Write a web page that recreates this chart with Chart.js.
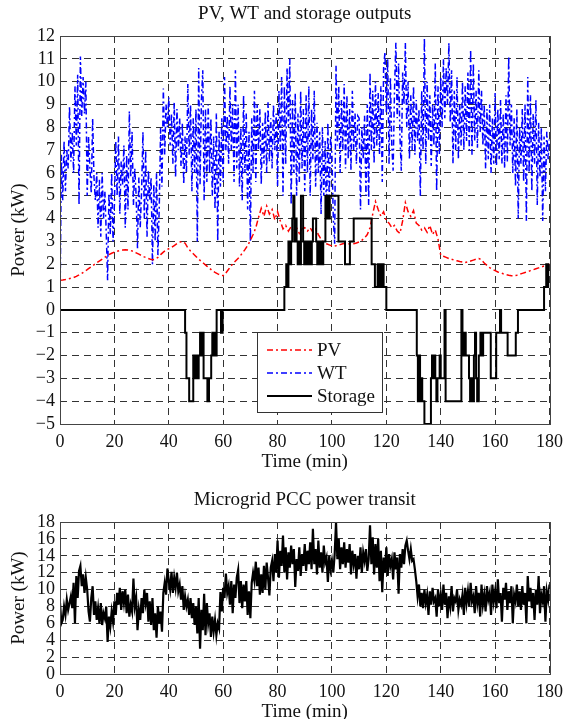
<!DOCTYPE html>
<html>
<head>
<meta charset="utf-8">
<script src="https://cdn.jsdelivr.net/npm/chart.js@4.4.1/dist/chart.umd.min.js"></script>
<style>
  body { margin: 0; background: #fff; }
  canvas { position: absolute; left: 0; }
  #top { top: 0; }
  #bottom { top: 480px; }
</style>
</head>
<body>
<canvas id="top" width="570" height="480"></canvas>
<canvas id="bottom" width="570" height="250"></canvas>
<script>
// valeurs (kW)
// WT et PCC : un point toutes les 0,5 min, PV : un point par minute
var wtKW = [
  0, 6.8, 4.8, 7.4, 5.2, 7.0, 6.2, 8.9, 6.5, 7.8, 6.0, 9.8, 7.2, 10.3, 4.6, 11.1, 8.5, 10.2, 8.6, 10.0,
  5.0, 7.6, 6.2, 5.1, 8.4, 5.8, 4.8, 6.0, 3.6, 5.7, 3.2, 6.0, 4.0, 5.2, 3.4, 1.3, 5.1, 3.3, 6.0, 3.0,
  4.6, 7.4, 5.0, 7.6, 4.2, 6.5, 5.5, 7.2, 3.6, 6.8, 4.4, 8.7, 5.8, 7.8, 4.6, 6.2, 5.0, 2.7, 5.8, 3.6,
  5.2, 7.8, 4.0, 7.0, 3.2, 6.1, 4.8, 5.8, 2.0, 5.5, 3.0, 6.0, 2.4, 4.5, 8.0, 5.4, 9.7, 6.8, 9.0, 8.0,
  9.3, 7.2, 8.6, 6.4, 9.1, 5.8, 8.8, 7.0, 8.4, 6.3, 8.2, 5.5, 7.6, 6.0, 9.9, 6.8, 9.0, 5.2, 8.4, 6.0,
  8.8, 3.0, 10.6, 5.5, 9.2, 10.5, 4.8, 8.8, 5.6, 9.0, 6.0, 8.4, 5.0, 7.6, 4.4, 8.6, 3.0, 7.8, 5.4, 8.4,
  5.6, 10.2, 7.0, 8.5, 6.4, 9.8, 7.0, 9.0, 5.6, 10.5, 6.2, 9.0, 5.4, 8.0, 4.8, 9.4, 6.0, 8.6, 4.4, 7.8,
  3.0, 8.4, 6.0, 9.6, 5.6, 9.0, 7.0, 8.8, 5.5, 8.2, 6.4, 8.7, 6.0, 9.1, 6.5, 8.4, 6.2, 9.0, 7.0, 8.6,
  5.4, 9.6, 7.0, 10.2, 5.0, 9.8, 6.4, 10.6, 8.0, 11.0, 4.6, 9.2, 6.0, 9.5, 5.0, 8.6, 5.6, 9.6, 6.2, 8.8,
  5.2, 9.4, 6.0, 9.8, 5.0, 8.8, 6.6, 9.6, 5.4, 8.2, 6.0, 7.8, 4.2, 8.0, 5.0, 7.4, 4.0, 8.2, 4.8, 7.6,
  6.8, 4.0, 2.9, 10.7, 7.2, 9.8, 6.0, 9.2, 7.0, 9.9, 6.2, 9.4, 6.6, 8.8, 6.1, 9.6, 7.0, 8.6, 6.4, 8.5,
  8.4, 4.4, 8.0, 6.6, 8.5, 5.0, 9.0, 4.6, 10.4, 7.0, 9.6, 6.4, 10.0, 7.2, 9.5, 6.8, 9.8, 5.6, 10.6, 11.3,
  8.6, 11.0, 6.4, 10.2, 7.2, 6.1, 9.6, 11.7, 8.4, 10.8, 7.6, 6.1, 10.4, 9.0, 11.7, 8.0, 10.0, 6.6, 9.4, 7.0,
  9.8, 6.8, 9.2, 7.4, 8.8, 5.0, 9.6, 7.0, 11.9, 6.4, 10.0, 7.4, 9.4, 6.3, 9.0, 7.2, 10.8, 5.2, 9.8, 6.8,
  10.2, 8.0, 11.0, 8.4, 10.6, 9.0, 11.7, 8.2, 10.5, 6.4, 9.6, 7.0, 10.2, 6.6, 9.0, 7.2, 10.0, 7.0, 9.8, 7.4,
  10.4, 7.0, 11.4, 6.8, 10.8, 7.4, 9.6, 7.1, 10.5, 7.8, 9.6, 7.2, 9.0, 6.2, 8.8, 6.6, 9.0, 6.0, 8.4, 6.4,
  9.5, 6.3, 8.8, 6.6, 9.2, 6.4, 8.6, 6.2, 9.4, 6.5, 11.1, 7.2, 9.0, 6.0, 8.4, 5.4, 8.8, 4.0, 8.0, 6.4,
  8.8, 5.6, 9.0, 3.9, 10.2, 6.0, 9.4, 5.2, 8.6, 6.4, 9.2, 4.6, 8.2, 5.8, 8.0, 3.9, 7.6, 5.2, 7.8, 6.6, 7.5
];

var pvKW = [
  1.30, 1.31, 1.33, 1.36, 1.39, 1.42, 1.47, 1.53, 1.60, 1.68, 1.76,
  1.85, 1.93, 2.02, 2.10, 2.18, 2.26, 2.34, 2.42, 2.48, 2.53,
  2.57, 2.60, 2.62, 2.63, 2.62, 2.60, 2.56, 2.50, 2.44, 2.38,
  2.32, 2.27, 2.23, 2.20, 2.22, 2.30, 2.42, 2.53, 2.62, 2.68,
  2.74, 2.82, 2.90, 2.97, 3.00, 2.92, 2.72, 2.58, 2.46, 2.34,
  2.22, 2.12, 2.02, 1.92, 1.82, 1.72, 1.64, 1.58, 1.53, 1.50,
  1.62, 1.78, 1.94, 2.08, 2.20, 2.32, 2.48, 2.64, 2.82, 3.05,
  3.30, 3.60, 4.05, 4.45, 4.10, 4.55, 4.20, 4.40, 3.95, 4.30,
  3.90, 3.55, 3.70, 3.45, 3.65, 3.40, 3.60, 3.35, 3.55, 3.60,
  3.45, 3.60, 3.40, 3.55, 3.30, 3.10, 2.95, 2.90, 2.85, 2.80,
  2.80, 2.82, 2.86, 2.90, 2.92, 2.90, 2.88, 2.90, 2.93, 2.98,
  3.05, 3.15, 3.30, 3.60, 4.20, 4.75, 4.40, 4.10, 4.30, 3.90,
  3.80, 3.60, 3.70, 3.45, 3.35, 3.90, 4.70, 4.30, 4.10, 4.35,
  3.80, 3.70, 3.50, 3.60, 3.40, 3.70, 3.30, 3.50, 3.10, 2.40,
  2.35, 2.30, 2.25, 2.22, 2.18, 2.15, 2.12, 2.10, 2.08, 2.10,
  2.14, 2.18, 2.22, 2.25, 2.20, 2.05, 1.95, 1.85, 1.78, 1.72,
  1.66, 1.62, 1.58, 1.55, 1.52, 1.50, 1.50, 1.52, 1.56, 1.60,
  1.64, 1.68, 1.72, 1.76, 1.80, 1.84, 1.88, 1.92, 1.96, 2.00
];

// stockage : palier qui tient depuis l'instant donne jusqu'au suivant
var storageMin = [0, 46, 46.5, 47.5, 49, 49.5, 50, 50.5, 51, 51.5, 52, 52.4, 52.8, 54.2, 54.8, 55.6, 56, 56.4, 56.8, 57.2,
  57.6, 59.2, 59.8, 82.5, 83.2, 83.6, 84, 84.6, 85, 85.4, 85.8, 86.2, 86.6, 87, 87.4, 87.8, 88.2, 88.6, 89.4, 89.8,
  90.2, 90.6, 91, 91.4, 91.8, 92.2, 92.6, 93, 94.2, 94.6, 95, 95.6, 96, 96.4, 96.8, 97.6, 98, 98.4, 98.8, 99.2,
  102.4, 104.8, 106.6, 108, 114.6, 115.8, 116.8, 117.2, 117.8, 118.2, 118.6, 119, 120, 131.2, 131.6, 132, 132.4, 132.8, 133.2, 134,
  136.4, 136.8, 137.2, 137.6, 138, 138.4, 138.8, 139.6, 140, 141.4, 141.8, 147.6, 148, 148.6, 149.2, 150.4, 150.8, 151.4, 151.8, 152.2,
  152.6, 153, 153.4, 154, 154.6, 155.2, 155.6, 158.4, 160.4, 161.8, 162.2, 164.6, 167.6, 168.4, 178, 178.8, 179.2, 179.6, 180];
var storageKW = [0, -1, -3, -4, -2, -3, -2, -3, -2, -1, -2, -1, -3, -4, -3, -2, -1, -2, -1, -2,
  0, -1, 0, 1, 2, 1, 3, 2, 3, 4, 5, 3, 4, 3, 2, 3, 2, 5, 3, 2,
  3, 2, 3, 2, 3, 2, 3, 4, 3, 2, 3, 2, 3, 2, 3, 5, 4, 5, 4, 5,
  3, 2, 3, 4, 2, 1, 2, 1, 2, 1, 2, 1, 0, -2, -4, -2, -4, -3, -4, -5,
  -3, -2, -3, -2, -3, -4, -3, -2, -3, 0, -4, 0, -2, -1, -2, -3, -4, -3, -4, -2,
  -1, -3, -4, -2, -1, -2, -1, -3, -1, 0, -1, -2, -1, 0, 1, 2, 1, 2, 2];

var pccKW = [
  8.4, 6.0, 6.4, 8.0, 7.0, 8.8, 7.6, 8.4, 9.2, 7.8, 10.8, 6.0, 11.6, 9.0, 12.2, 12.8, 10.4, 11.8, 9.6, 11.4,
  10.0, 7.4, 6.2, 9.0, 10.4, 7.0, 8.6, 6.4, 7.8, 6.0, 8.4, 5.8, 7.2, 6.6, 8.0, 3.8, 6.8, 5.6, 7.4, 6.2,
  8.6, 7.0, 9.6, 8.2, 10.2, 7.6, 9.8, 8.4, 10.0, 7.2, 9.4, 6.8, 8.2, 7.4, 11.3, 8.0, 9.0, 5.2, 7.6, 6.4,
  9.0, 7.2, 10.0, 8.4, 9.6, 6.2, 8.6, 5.8, 9.0, 5.2, 7.2, 4.3, 8.0, 6.0, 7.4, 5.0, 9.6, 10.8, 9.4, 12.5,
  11.0, 10.0, 12.1, 9.6, 11.4, 10.2, 12.0, 9.8, 10.6, 8.8, 10.4, 7.6, 9.2, 8.0, 8.8, 7.0, 9.0, 6.6, 8.4, 5.8,
  8.0, 4.8, 9.0, 3.0, 7.6, 5.2, 9.5, 4.6, 8.4, 6.0, 7.2, 4.4, 6.8, 5.0, 6.4, 4.6, 6.0, 5.4, 9.7, 7.4,
  10.2, 9.0, 11.9, 9.6, 10.4, 8.2, 11.0, 7.2, 10.6, 9.0, 11.4, 12.3, 8.4, 11.0, 7.8, 10.6, 8.6, 11.0, 7.0, 9.8,
  6.6, 10.8, 12.0, 11.0, 13.3, 10.4, 12.6, 9.4, 11.8, 9.6, 12.8, 10.0, 13.2, 11.4, 9.3, 12.6, 13.4, 11.0, 14.2, 12.0,
  15.8, 11.4, 14.6, 12.8, 16.4, 12.0, 15.0, 11.2, 14.4, 12.6, 15.2, 13.0, 14.8, 10.3, 13.6, 12.2, 15.0, 11.6, 14.2, 12.8,
  15.4, 12.2, 14.6, 13.0, 15.6, 12.4, 17.2, 13.0, 14.8, 11.8, 15.8, 12.6, 14.4, 12.0, 15.2, 13.2, 13.8, 10.9, 14.0, 12.4,
  13.4, 12.0, 14.2, 18.0, 13.6, 16.0, 12.4, 15.0, 13.0, 15.6, 12.6, 14.8, 13.2, 15.4, 11.8, 14.6, 13.0, 14.2, 11.3, 14.0,
  12.4, 15.0, 12.0, 14.4, 13.4, 14.8, 12.2, 13.6, 17.6, 13.0, 16.2, 11.8, 15.4, 12.6, 16.0, 11.0, 14.6, 9.7, 13.8, 12.0,
  15.0, 11.6, 14.2, 12.8, 13.6, 11.2, 14.4, 12.4, 13.8, 9.5, 14.2, 12.6, 14.8, 13.0, 15.2, 15.8, 14.6, 13.6, 14.8, 13.4,
  13.6, 12.4, 11.0, 9.2, 10.6, 8.0, 9.6, 7.8, 10.0, 8.4, 9.4, 7.0, 9.8, 8.2, 10.2, 8.6, 9.0, 6.8, 10.0, 8.0,
  9.4, 7.6, 10.6, 8.2, 9.6, 6.6, 9.2, 8.0, 10.4, 7.4, 9.0, 8.6, 10.0, 7.6, 8.8, 8.2, 9.4, 7.0, 10.2, 8.4,
  9.8, 8.0, 10.8, 8.6, 9.2, 7.2, 10.4, 8.4, 9.6, 6.8, 10.6, 8.2, 9.4, 7.4, 10.4, 8.8, 9.6, 7.0, 10.6, 8.6,
  9.8, 7.8, 11.2, 8.4, 9.6, 6.2, 10.2, 8.8, 10.8, 7.6, 9.8, 8.4, 10.4, 6.0, 9.4, 8.6, 10.6, 8.0, 9.8, 7.6,
  10.4, 8.2, 9.6, 6.0, 11.6, 8.6, 10.2, 7.8, 9.6, 6.4, 10.0, 8.2, 11.6, 7.2, 9.4, 8.6, 10.4, 6.2, 9.8, 8.8, 10.6
];

// mise en points {x,y}
function pts(vals, pas) {
  return vals.map(function (v, i) { return { x: i * pas, y: v }; });
}
function ptsXY(xs, ys) {
  return xs.map(function (x, i) { return { x: x, y: ys[i] }; });
}

Chart.defaults.font.family = '"Liberation Serif", "Times New Roman", serif';
Chart.defaults.font.size = 18;
Chart.defaults.color = '#111';

// cadre + titre centre sur la zone de trace + legende encadree
var cadre = {
  id: 'cadre',
  afterDatasetsDraw: function (chart) {
    var ctx = chart.ctx, a = chart.chartArea;
    ctx.save();
    ctx.strokeStyle = '#444';
    ctx.lineWidth = 1;
    ctx.strokeRect(Math.round(a.left) + 0.5, Math.round(a.top) + 0.5, Math.round(a.width), Math.round(a.height));
    ctx.restore();
  },
  afterDraw: function (chart, args, o) {
    var ctx = chart.ctx, a = chart.chartArea;
    ctx.save();
    ctx.fillStyle = '#111';
    ctx.font = '19px "Liberation Serif"';
    ctx.textAlign = 'center';
    ctx.textBaseline = 'middle';
    ctx.fillText(o.titre, (a.left + a.right) / 2, o.titreY);
    if (o.legende) {
      var L = o.legende;
      ctx.fillStyle = '#fff';
      ctx.fillRect(L.x, L.y, L.w, L.h);
      ctx.strokeStyle = '#333';
      ctx.strokeRect(L.x + 0.5, L.y + 0.5, L.w, L.h);
      ctx.textAlign = 'left';
      chart.data.datasets.forEach(function (ds, i) {
        var yy = L.y + 18 + i * 23;
        ctx.strokeStyle = ds.borderColor;
        ctx.lineWidth = ds.borderWidth;
        ctx.setLineDash(ds.borderDash || []);
        ctx.beginPath();
        ctx.moveTo(L.x + 10, yy);
        ctx.lineTo(L.x + 55, yy);
        ctx.stroke();
        ctx.setLineDash([]);
        ctx.fillStyle = '#111';
        ctx.fillText(ds.label, L.x + 60, yy + 1);
      });
    }
    ctx.restore();
  }
};

function axeX() {
  return {
    type: 'linear', min: 0, max: 180,
    ticks: { stepSize: 20, padding: 7, maxRotation: 0, autoSkip: false },
    grid: { color: '#333', drawTicks: false },
    border: { display: false, dash: [7, 5] },
    title: { display: true, text: 'Time (min)', font: { size: 19 }, padding: { top: 0, bottom: 7 } },
    afterFit: function (s) { s.height = 56; }
  };
}
function axeY(min, max, pas) {
  return {
    min: min, max: max,
    ticks: {
      stepSize: pas, padding: 5, autoSkip: false,
      callback: function (v) { return v < 0 ? '\u2212' + Math.abs(v) : '' + v; }
    },
    grid: { color: '#333', drawTicks: false },
    border: { display: false, dash: [7, 5] },
    title: { display: true, text: 'Power (kW)', font: { size: 19 }, padding: { top: 8 } },
    afterFit: function (s) { s.width = 60; }
  };
}

new Chart(document.getElementById('top'), {
  type: 'line',
  data: {
    datasets: [
      { label: 'PV', data: pts(pvKW, 1), borderColor: '#ff0000', borderWidth: 1.5, borderDash: [6, 3, 2, 3], pointRadius: 0, order: 1 },
      { label: 'WT', data: pts(wtKW, 0.5), borderColor: '#0000ff', borderWidth: 1.5, borderDash: [6, 3, 2, 3], pointRadius: 0, order: 2 },
      { label: 'Storage', data: ptsXY(storageMin, storageKW), borderColor: '#000', borderWidth: 2, stepped: true, pointRadius: 0, order: 0 }
    ]
  },
  options: {
    responsive: false,
    animation: false,
    layout: { padding: { top: 36, right: 18, left: 0, bottom: 0 } },
    plugins: {
      legend: { display: false },
      tooltip: { enabled: false },
      cadre: { titre: 'PV, WT and storage outputs', titreY: 14, legende: { x: 257, y: 332, w: 125, h: 80 } }
    },
    scales: { x: axeX(), y: axeY(-5, 12, 1) }
  },
  plugins: [cadre]
});

new Chart(document.getElementById('bottom'), {
  type: 'line',
  data: {
    datasets: [
      { label: 'PCC', data: pts(pccKW, 0.5), borderColor: '#000', borderWidth: 2.2, pointRadius: 0 }
    ]
  },
  options: {
    responsive: false,
    animation: false,
    layout: { padding: { top: 42, right: 18, left: 0, bottom: 0 } },
    plugins: {
      legend: { display: false },
      tooltip: { enabled: false },
      cadre: { titre: 'Microgrid PCC power transit', titreY: 20 }
    },
    scales: { x: axeX(), y: axeY(0, 18, 2) }
  },
  plugins: [cadre]
});
</script>
</body>
</html>
